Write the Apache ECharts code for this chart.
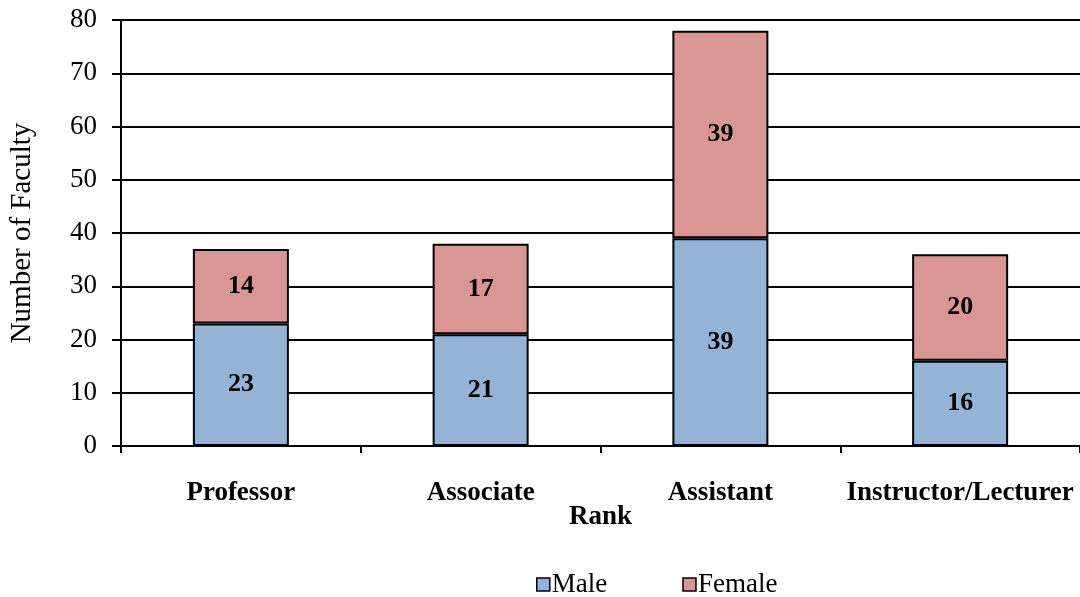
<!DOCTYPE html>
<html><head><meta charset="utf-8">
<script src="https://cdn.jsdelivr.net/npm/echarts@6/dist/echarts.min.js"></script>
<style>html,body{margin:0;padding:0;background:#fff}#c{width:1080px;height:597px}</style>
</head><body><div id="c"></div>
<script>
const categories = ["Professor", "Associate", "Assistant", "Instructor/Lecturer"];
const maleValues = [23, 21, 39, 16];
const femaleValues = [14, 17, 39, 20];
const seriesNames = ["Male", "Female"];

const font = "Liberation Serif";
const chart = echarts.init(document.getElementById('c'));
const labelStyle = {show: true, position: 'inside', color: '#000', fontFamily: font, fontWeight: 'bold', fontSize: 26};
chart.setOption({
  animation: false,
  grid: {left: 118, top: 20, width: 968, height: 426, containLabel: false},
  legend: {
    top: 566, left: 531, itemGap: 75, itemWidth: 13, itemHeight: 13,
    icon: 'rect',
    data: seriesNames,
    itemStyle: {borderColor: '#000', borderWidth: 1.5},
    textStyle: {fontFamily: font, fontSize: 27, color: '#000', padding: [0, 0, 0, -3]}
  },
  xAxis: {
    type: 'category', data: categories,
    name: 'Rank', nameLocation: 'middle', nameGap: 58, nameMoveOverlap: false,
    nameTextStyle: {fontFamily: font, fontWeight: 'bold', fontSize: 27, color: '#000'},
    axisLine: {lineStyle: {color: '#000', width: 2}},
    axisTick: {show: true, interval: 0, length: 7, lineStyle: {color: '#000', width: 2}},
    axisLabel: {interval: 0, fontFamily: font, fontWeight: 'bold', fontSize: 27, color: '#000', margin: 34}
  },
  yAxis: {
    type: 'value', min: 0, max: 80, interval: 10,
    name: 'Number of Faculty', nameLocation: 'middle', nameGap: 84,
    nameTextStyle: {fontFamily: font, fontSize: 29, color: '#000'},
    axisLine: {show: true, lineStyle: {color: '#000', width: 2}},
    axisTick: {show: true, length: 9, lineStyle: {color: '#000', width: 2}},
    axisLabel: {fontFamily: font, fontSize: 27, color: '#000', margin: 24},
    splitLine: {lineStyle: {color: '#000', width: 2}}
  },
  series: [
    {name: seriesNames[0], type: 'bar', stack: 'a', data: maleValues, barWidth: 96,
     itemStyle: {color: '#95B3D7', borderColor: '#000', borderWidth: 2}, label: labelStyle},
    {name: seriesNames[1], type: 'bar', stack: 'a', data: femaleValues, barWidth: 96,
     itemStyle: {color: '#D99694', borderColor: '#000', borderWidth: 2}, label: labelStyle}
  ]
});
</script></body></html>
